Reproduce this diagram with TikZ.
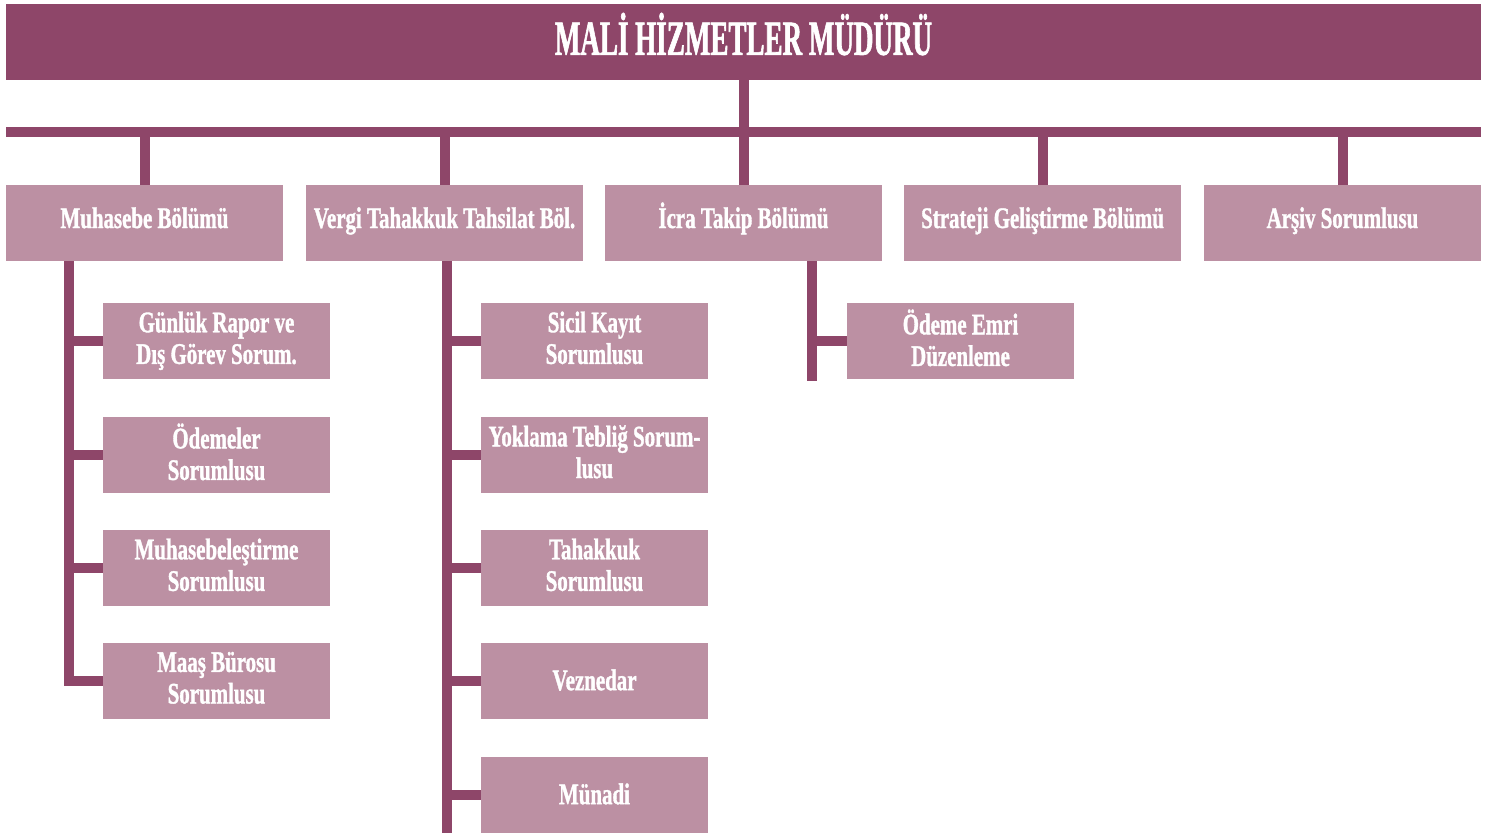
\documentclass[tikz,border=0pt]{standalone}
\usepackage{fontspec}
\newfontfamily\titlefont{Liberation Serif}[UprightFont=* Bold, FakeStretch=0.55, FakeBold=1.2]
\newfontfamily\boxfont{Liberation Serif}[UprightFont=* Bold, FakeStretch=0.70, FakeBold=1.2]
\definecolor{plum}{HTML}{8E4669}
\definecolor{mauve}{HTML}{BC90A3}
\begin{document}
\begin{tikzpicture}[x=0.02cm,y=-0.02cm,
  headbox/.style={rectangle, fill=plum, text=white, inner sep=0pt,
    minimum width=29.5cm, minimum height=1.52cm,
    text height=20pt, text depth=5.3pt,
    font=\titlefont\fontsize{28}{30}\selectfont},
  deptbox/.style={rectangle, fill=mauve, text=white, inner sep=0pt,
    minimum width=5.54cm, minimum height=1.52cm,
    text height=12pt, text depth=6.3pt,
    font=\boxfont\fontsize{17}{18}\selectfont},
  unitbox/.style={rectangle, fill=mauve, text=white, inner sep=0pt,
    minimum width=4.54cm, minimum height=1.52cm, align=center,
    execute at begin node={\vphantom{Üg}},
    execute at end node={\vphantom{Üg}},
    font=\boxfont\fontsize{17}{18}\selectfont},
  conn/.style={draw=plum, line width=0.2cm}]
\useasboundingbox (0,0) rectangle (1491,836);

% director
\node[headbox] (top) at (743.5,42) {MALİ HİZMETLER MÜDÜRÜ};

% departments
\node[deptbox] (muh) at (144.5,223) {Muhasebe Bölümü};
\node[deptbox] (ver) at (444.5,223) {Vergi Tahakkuk Tahsilat Böl.};
\node[deptbox] (ic)  at (743.5,223) {İcra Takip Bölümü};
\node[deptbox] (str) at (1042.5,223) {Strateji Geliştirme Bölümü};
\node[deptbox] (ars) at (1342.5,223) {Arşiv Sorumlusu};

% accounting units
\node[unitbox] (m1) at (216.5,341) {Günlük Rapor ve\\Dış Görev Sorum.};
\node[unitbox] (m2) at (216.5,455) {Ödemeler\\Sorumlusu};
\node[unitbox] (m3) at (216.5,568) {Muhasebeleştirme\\Sorumlusu};
\node[unitbox] (m4) at (216.5,681) {Maaş Bürosu\\Sorumlusu};

% tax units
\node[unitbox] (v1) at (594.5,341) {Sicil Kayıt\\Sorumlusu};
\node[unitbox] (v2) at (594.5,455) {Yoklama Tebliğ Sorum-\\lusu};
\node[unitbox] (v3) at (594.5,568) {Tahakkuk\\Sorumlusu};
\node[unitbox] (v4) at (594.5,681) {Veznedar};
\node[unitbox] (v5) at (594.5,795) {Münadi};

% enforcement unit
\node[unitbox] (i1) at (960.5,341) {Ödeme Emri\\Düzenleme};

% main bus
\coordinate (barL) at (6,132);
\coordinate (barR) at (1481,132);
\draw[conn] (barL) -- (barR);
\draw[conn] (top.south) -- (ic.north);
\foreach \d in {muh,ver,str,ars}
  \draw[conn] (\d.north) -- (\d.north |- barL);

% department spines
\coordinate (sp1) at (69,686);
\coordinate (sp2) at (447,833);
\coordinate (sp3) at (812,381);
\draw[conn] (muh.south -| sp1) -- (sp1);
\draw[conn] (ver.south -| sp2) -- (sp2);
\draw[conn] (ic.south -| sp3) -- (sp3);

% branches to units
\foreach \u in {m1,m2,m3,m4}
  \draw[conn] (\u.west) -- (\u.west -| sp1);
\foreach \u in {v1,v2,v3,v4,v5}
  \draw[conn] (\u.west) -- (\u.west -| sp2);
\draw[conn] (i1.west) -- (i1.west -| sp3);
\end{tikzpicture}
\end{document}
